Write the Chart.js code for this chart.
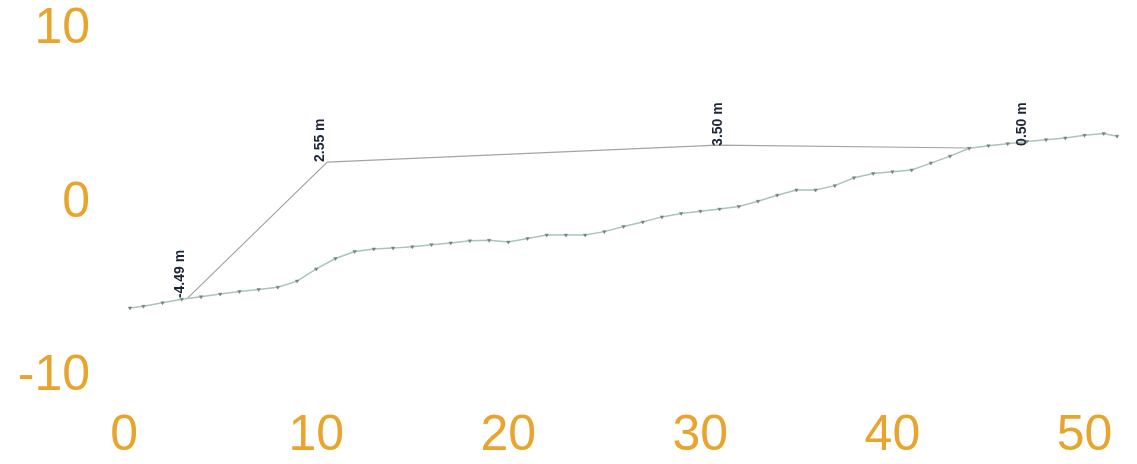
<!DOCTYPE html>
<html>
<head>
<meta charset="utf-8">
<script src="https://cdn.jsdelivr.net/npm/chart.js@4.4.1/dist/chart.umd.min.js"></script>
<style>
  html, body { margin: 0; padding: 0; background: #fff; }
  #wrap { width: 1137px; height: 464px; }
</style>
</head>
<body>
<div id="wrap"><canvas id="profileChart" width="1137" height="464"></canvas></div>
<script>
// ground profile (distance in m, elevation in m)
var groundX = [0.3, 1, 2, 3, 4, 5, 6, 7, 8, 9, 10, 11, 12, 13, 14, 15, 16, 17, 18, 19, 20,
  21, 22, 23, 24, 25, 26, 27, 28, 29, 30, 31, 32, 33, 34, 35, 36, 37, 38, 39, 40,
  41, 42, 43, 44, 45, 46, 47, 48, 49, 50, 51, 51.7];
var groundY = [-6.05, -5.95, -5.75, -5.55, -5.4, -5.25, -5.1, -4.98, -4.85, -4.5, -3.8,
  -3.2, -2.8, -2.65, -2.6, -2.52, -2.4, -2.3, -2.18, -2.15, -2.25,
  -2.05, -1.85, -1.85, -1.85, -1.65, -1.35, -1.1, -0.8, -0.6, -0.48,
  -0.35, -0.2, 0.1, 0.45, 0.75, 0.75, 1.0, 1.45, 1.7, 1.8,
  1.9, 2.3, 2.7, 3.15, 3.3, 3.42, 3.55, 3.65, 3.75, 3.9, 4.0, 3.85];

// design line
var designX = [3.3, 10.57, 30.9, 44.05];
var designY = [-5.48, 2.36, 3.34, 3.17];

// height labels
var labelText = ['-4.49 m', '2.55 m', '3.50 m', '0.50 m'];
var labelX = [3.3, 10.57, 31.28, 47.1];
var labelY = [-5.48, 2.36, 3.29, 3.29];

var xTicks = [0, 10, 20, 30, 40, 50];
var yTicks = [-10, 0, 10];

function toPoints(xs, ys) {
  return xs.map(function (x, i) { return { x: x, y: ys[i] }; });
}

// draws the vertical height labels
var heightLabels = {
  id: 'heightLabels',
  afterDatasetsDraw: function (chart) {
    var ctx = chart.ctx;
    var xs = chart.scales.x, ys = chart.scales.y;
    ctx.save();
    ctx.font = 'bold 14px "Liberation Sans", Arial, sans-serif';
    ctx.fillStyle = '#1c2636';
    ctx.textAlign = 'left';
    ctx.textBaseline = 'bottom';
    labelText.forEach(function (t, i) {
      ctx.save();
      ctx.translate(xs.getPixelForValue(labelX[i]), ys.getPixelForValue(labelY[i]));
      ctx.rotate(-Math.PI / 2);
      ctx.fillText(t, 0, 0);
      ctx.restore();
    });
    ctx.restore();
  }
};

// stop the axes from reserving room for half labels at the ends
function noEdgePadding(axis) {
  axis.paddingTop = 0;
  axis.paddingBottom = 0;
  axis.paddingLeft = 0;
  axis.paddingRight = 0;
}

var tickFont = { family: '"Liberation Sans", Arial, sans-serif', size: 50, lineHeight: 1 };
var orange = '#E9A42D';

var ctx = document.getElementById('profileChart').getContext('2d');
var profileChart = new Chart(ctx, {
  type: 'scatter',
  data: {
    datasets: [{
      label: 'Design',
      data: toPoints(designX, designY),
      showLine: true,
      borderColor: '#a4a4a4',
      borderWidth: 1.2,
      pointRadius: 0,
      order: 2
    }, {
      label: 'Ground',
      data: toPoints(groundX, groundY),
      showLine: true,
      borderColor: '#a9c6b8',
      borderWidth: 1.5,
      pointStyle: 'triangle',
      rotation: 180,
      pointRadius: 2,
      pointBackgroundColor: '#76827e',
      pointBorderColor: '#76827e',
      pointBorderWidth: 0.5,
      order: 1
    }]
  },
  options: {
    responsive: false,
    animation: false,
    layout: { padding: { top: 5, right: 1, bottom: 3, left: 0 } },
    plugins: {
      legend: { display: false },
      tooltip: { enabled: false }
    },
    scales: {
      x: {
        type: 'linear',
        min: -1,
        max: 52.5,
        grid: { display: false, drawTicks: false },
        border: { display: false },
        afterBuildTicks: function (axis) {
          axis.ticks = xTicks.map(function (v) { return { value: v }; });
        },
        afterFit: function (axis) {
          axis.height = 56;
          noEdgePadding(axis);
        },
        ticks: { color: orange, font: tickFont, padding: 6, maxRotation: 0 }
      },
      y: {
        type: 'linear',
        min: -11.64,
        max: 11.41,
        grid: { display: false, drawTicks: false },
        border: { display: false },
        afterBuildTicks: function (axis) {
          axis.ticks = yTicks.map(function (v) { return { value: v }; });
        },
        afterFit: function (axis) {
          axis.width = 105;
          noEdgePadding(axis);
        },
        ticks: { color: orange, font: tickFont, padding: 15 }
      }
    }
  },
  plugins: [heightLabels]
});
</script>
</body>
</html>
